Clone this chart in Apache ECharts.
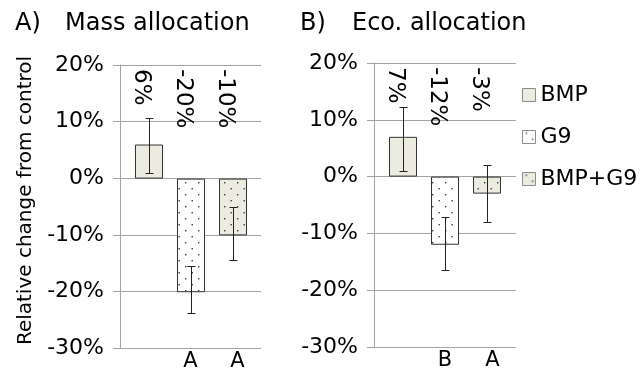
<!DOCTYPE html>
<html>
<head>
<meta charset="utf-8">
<title>Relative change from control</title>
<script src="https://cdn.jsdelivr.net/npm/echarts@6/dist/echarts.min.js"></script>
<style>
  html, body { margin: 0; padding: 0; background: #ffffff; }
  #chart { width: 640px; height: 372px; }
</style>
</head>
<body>
<div id="chart"></div>
<script>
// Treatments shown in both panels
const groups = ['BMP', 'G9', 'BMP+G9'];

// Panel A: mass allocation (% change from control)
const massChange = [6, -20, -10];
const massLow = [0.9, -23.6, -14.3];
const massHigh = [10.6, -15.3, -5.0];
const massLetters = ['', 'A', 'A'];

// Panel B: economic allocation (% change from control)
const ecoChange = [7, -12, -3];
const ecoLow = [1.0, -16.4, -8.0];
const ecoHigh = [12.2, -7.2, 2.0];
const ecoLetters = ['', 'B', 'A'];

// Value axis ticks
const yMin = -30;
const yMax = 20;
const yStep = 10;

const FONT = 'DejaVu Sans';
const GRID_COLOR = '#a3a3a3';
const BEIGE = '#ecebdf';

// Dotted fill used for the G9 treatments
function dotPattern(bg) {
  const c = document.createElement('canvas');
  c.width = 13;
  c.height = 12;
  const g = c.getContext('2d');
  g.fillStyle = bg;
  g.fillRect(0, 0, 13, 12);
  g.fillStyle = '#3a3a3a';
  g.fillRect(3, 2, 1.4, 1.4);
  g.fillRect(9.5, 8, 1.4, 1.4);
  return { image: c, repeat: 'repeat' };
}

const fills = [BEIGE, dotPattern('#ffffff'), dotPattern(BEIGE)];

function pct(v) {
  return Math.round(v) + '%';
}

// Each panel uses a frame grid (axis, gridlines, letters) and an inner grid for the bars
const panels = [
  { values: massChange, low: massLow, high: massHigh, letters: massLetters,
    frame: { left: 120, top: 65, width: 141, height: 284 },
    bars: { left: 128, top: 65, width: 126, height: 284 },
    axisName: 'Relative change from control' },
  { values: ecoChange, low: ecoLow, high: ecoHigh, letters: ecoLetters,
    frame: { left: 374, top: 63, width: 142, height: 284 },
    bars: { left: 382, top: 63, width: 126, height: 284 },
    axisName: '' }
];

const grid = [];
const xAxis = [];
const yAxis = [];
const series = [];

panels.forEach(function (p, k) {
  const frameIdx = grid.length;
  grid.push(p.frame);
  const barIdx = grid.length;
  grid.push(p.bars);

  // Frame axes
  xAxis.push({
    type: 'category', gridIndex: frameIdx, data: p.letters,
    axisLine: { show: false }, axisTick: { show: false },
    axisLabel: { color: '#000', fontFamily: FONT, fontSize: 21, margin: 3 }
  });
  yAxis.push({
    type: 'value', gridIndex: frameIdx, min: yMin, max: yMax, interval: yStep,
    axisLine: { show: true, lineStyle: { color: GRID_COLOR, width: 1 } },
    axisTick: { show: true, length: 7, lineStyle: { color: GRID_COLOR } },
    splitLine: { show: true, lineStyle: { color: GRID_COLOR, width: 1 } },
    axisLabel: { color: '#000', fontFamily: FONT, fontSize: 22, margin: 16,
      formatter: '{value}%' },
    name: p.axisName, nameLocation: 'middle', nameGap: 84,
    nameTextStyle: { color: '#000', fontFamily: FONT, fontSize: 20, padding: [0, 0, 0, 12] }
  });

  // Bar axes (hidden, same value range)
  const bx = xAxis.length;
  xAxis.push({
    type: 'category', gridIndex: barIdx, data: groups, show: false
  });
  const by = yAxis.length;
  yAxis.push({
    type: 'value', gridIndex: barIdx, min: yMin, max: yMax, interval: yStep, show: false,
    splitLine: { show: false }
  });

  groups.forEach(function (name, g) {
    series.push({
      type: 'bar', name: name, xAxisIndex: bx, yAxisIndex: by,
      barWidth: 28, barGap: '-100%',
      data: p.values.map(function (v, i) { return i === g ? v : '-'; }),
      itemStyle: { color: fills[g], borderColor: '#333333', borderWidth: 1 },
      emphasis: { disabled: true }
    });
  });

  // Error bars
  series.push({
    type: 'custom', xAxisIndex: bx, yAxisIndex: by, z: 5,
    data: p.low.map(function (l, i) { return [i, l, p.high[i]]; }),
    renderItem: function (params, api) {
      const lo = api.coord([api.value(0), api.value(1)]);
      const hi = api.coord([api.value(0), api.value(2)]);
      const cx = Math.round(lo[0]) + 0.5;
      const y1 = Math.round(lo[1]) + 0.5;
      const y2 = Math.round(hi[1]) + 0.5;
      const style = { stroke: '#222222', lineWidth: 1 };
      return {
        type: 'group',
        children: [
          { type: 'line', shape: { x1: cx, y1: y1, x2: cx, y2: y2 }, style: style },
          { type: 'line', shape: { x1: cx - 4, y1: y1, x2: cx + 4, y2: y1 }, style: style },
          { type: 'line', shape: { x1: cx - 4, y1: y2, x2: cx + 4, y2: y2 }, style: style }
        ]
      };
    }
  });

  // Rotated value labels along the top of the panel
  series.push({
    type: 'custom', xAxisIndex: bx, yAxisIndex: by, z: 6,
    data: p.values.map(function (v, i) { return [i, v]; }),
    renderItem: function (params, api) {
      const pt = api.coord([api.value(0), yMax]);
      return {
        type: 'text',
        x: pt[0] - 8,
        y: pt[1] + 4,
        rotation: -Math.PI / 2,
        style: {
          text: pct(api.value(1)),
          fontFamily: FONT, fontSize: 23, fill: '#000000',
          align: 'left', verticalAlign: 'middle'
        }
      };
    }
  });
});

const titleStyle = { color: '#000', fontFamily: FONT, fontSize: 24, fontWeight: 'normal' };

const option = {
  backgroundColor: '#ffffff',
  animation: false,
  title: [
    { text: 'A)', left: 15, top: 12, padding: 0, textStyle: titleStyle },
    { text: 'Mass allocation', left: 65, top: 12, padding: 0, textStyle: titleStyle },
    { text: 'B)', left: 300, top: 12, padding: 0, textStyle: titleStyle },
    { text: 'Eco. allocation', left: 352, top: 12, padding: 0, textStyle: titleStyle }
  ],
  legend: {
    data: groups, orient: 'vertical', left: 522, top: 84, padding: 0,
    icon: 'rect', itemWidth: 13, itemHeight: 13, itemGap: 20,
    selectedMode: false,
    itemStyle: { borderColor: '#8a8a8a', borderWidth: 1 },
    textStyle: { color: '#000', fontFamily: FONT, fontSize: 22, padding: [0, 0, 0, 0] }
  },
  grid: grid,
  xAxis: xAxis,
  yAxis: yAxis,
  series: series
};

const chart = echarts.init(document.getElementById('chart'), null, { renderer: 'canvas' });
chart.setOption(option);
</script>
</body>
</html>
